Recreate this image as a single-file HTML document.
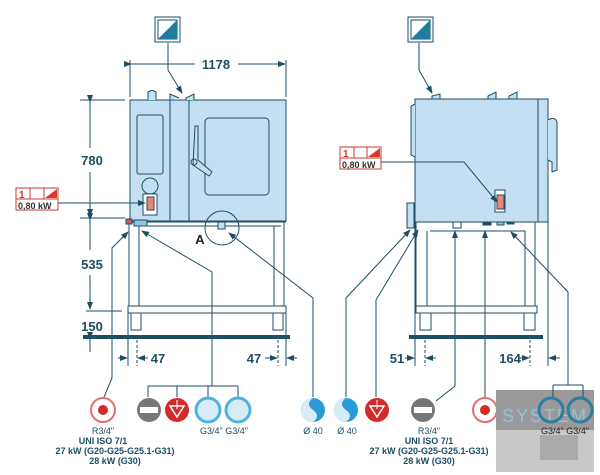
<!DOCTYPE html>
<html><head><style>body{margin:0;background:#fff}svg{display:block}text{font-family:"Liberation Sans",sans-serif}</style></head><body>
<svg width="600" height="475" viewBox="0 0 600 475" xmlns="http://www.w3.org/2000/svg">
<defs>
<marker id="a" markerWidth="8" markerHeight="8" refX="7" refY="4" orient="auto" markerUnits="userSpaceOnUse"><path d="M0,1 L8,4 L0,7 Z" fill="#1d4e63"/></marker>
</defs>
<g stroke="#1d4e63" fill="none" stroke-width="1">
<rect x="155" y="17" width="25" height="25" fill="#fff"/>
<rect x="158" y="20" width="19" height="19" fill="#fff"/>
<path d="M177,20 L177,39 L158,39 Z" fill="#1f7ea0" stroke="none"/>
<path d="M168,43 L168,70 L182,93" marker-end="url(#a)"/>
<line x1="130" y1="60" x2="130" y2="97"/><line x1="286" y1="60" x2="286" y2="97"/>
<line x1="131" y1="64" x2="195" y2="64" marker-start="url(#a)"/>
<line x1="238" y1="64" x2="285" y2="64" marker-end="url(#a)"/>
<rect x="130" y="100" width="156" height="121" fill="#c4dff1"/>
<line x1="170" y1="100" x2="170" y2="221"/><line x1="189" y1="100" x2="189" y2="221"/>
<rect x="137" y="115" width="26" height="59" rx="2"/>
<rect x="205" y="118" width="64" height="77" rx="4"/>
<path d="M195,126 L198,126 L198,160 L212,172 L209,176 L193,165 Z" fill="#c4dff1"/>
<circle cx="194" cy="162" r="3"/>
<path d="M148,100 L148,92 Q152,89 156,92 L156,100" fill="#c4dff1"/>
<path d="M170,100 L170,94 L179,98" fill="#c4dff1"/><path d="M186,100 L186,98 L194,94 L194,100" fill="#c4dff1"/>
<circle cx="150" cy="186" r="8"/>
<path d="M143,194 L157,194 L157,215 L143,215 Z" fill="#fff"/>
<rect x="147" y="197" width="7" height="13" fill="#e8877a"/>
<line x1="128" y1="222" x2="286" y2="222"/>
<line x1="134" y1="226" x2="281" y2="226"/>
<line x1="129" y1="222" x2="129" y2="306"/><line x1="139" y1="226" x2="139" y2="306"/>
<line x1="274" y1="226" x2="274" y2="306"/><line x1="284" y1="222" x2="284" y2="306"/>
<rect x="128" y="306" width="158" height="7" fill="#fff"/>
<rect x="131" y="313" width="10" height="17"/><rect x="273" y="313" width="10" height="17"/>
<rect x="134" y="220" width="13" height="6" fill="#8ec5e0"/>
<rect x="126" y="219" width="6" height="5" fill="#c06060"/>
<rect x="218" y="222" width="7" height="7" fill="#c4dff1"/>
<circle cx="222" cy="228" r="17"/>
</g>
<rect x="83" y="335" width="207" height="4" fill="#1d4e63"/>
<g stroke="#1d4e63" fill="none">
<line x1="80" y1="100" x2="125" y2="100"/><line x1="80" y1="218" x2="125" y2="218"/>
<line x1="86" y1="311" x2="122" y2="311"/>
<line x1="90" y1="102" x2="90" y2="148" marker-start="url(#a)"/>
<line x1="90" y1="172" x2="90" y2="216" marker-end="url(#a)"/>
<line x1="90" y1="220" x2="90" y2="250" marker-start="url(#a)"/>
<line x1="90" y1="275" x2="90" y2="309" marker-end="url(#a)"/>
<line x1="90" y1="339" x2="90" y2="352" marker-start="url(#a)"/>
<line x1="128" y1="313" x2="128" y2="366"/><line x1="137" y1="340" x2="137" y2="366" stroke-dasharray="3,2"/>
<line x1="118" y1="358" x2="127" y2="358" marker-end="url(#a)"/><line x1="148" y1="358" x2="138" y2="358" marker-end="url(#a)"/>
<line x1="278" y1="340" x2="278" y2="366" stroke-dasharray="3,2"/><line x1="286" y1="313" x2="286" y2="366"/>
<line x1="265" y1="358" x2="277" y2="358" marker-end="url(#a)"/><line x1="297" y1="358" x2="287" y2="358" marker-end="url(#a)"/>
<line x1="58" y1="203" x2="145" y2="203" marker-end="url(#a)"/>
<path d="M104,397 L112,378 L112,248 L128,232" marker-end="url(#a)"/>
<line x1="148" y1="386" x2="238" y2="386"/>
<line x1="148" y1="386" x2="148" y2="397"/><line x1="177" y1="386" x2="177" y2="397"/>
<line x1="208" y1="386" x2="208" y2="397"/><line x1="238" y1="386" x2="238" y2="397"/>
<path d="M212,386 L212,272 L142,231" marker-end="url(#a)"/>
<path d="M313,397 L313,298 L229,233" marker-end="url(#a)"/>
<rect x="408" y="17" width="25" height="25" fill="#fff"/><rect x="411" y="20" width="19" height="19"/>
<path d="M430,20 L430,39 L411,39 Z" fill="#1f7ea0" stroke="none"/>
<path d="M419,43 L419,70 L432,93" marker-end="url(#a)"/>
<path d="M432,99 L432,96 L440,94 L440,99" fill="#c4dff1"/>
<path d="M488,99 L488,96 L496,92 L496,99" fill="#c4dff1"/><path d="M509,99 L509,96 L517,92 L517,99" fill="#c4dff1"/>
<rect x="415" y="99" width="123" height="123" fill="#c4dff1"/>
<rect x="538" y="99" width="10" height="123" fill="#c4dff1"/>
<path d="M415,104 L411,106 L411,155 L415,157" fill="#c4dff1"/>
<path d="M548,120 Q555,116 557,122 L557,170 L552,172 L552,162 L548,160" fill="#c4dff1"/>
<path d="M495,190 L505,190 L505,212 L495,212 Z" fill="#fff"/>
<rect x="497" y="195" width="7" height="14" fill="#e8877a"/>
<path d="M380,162 L464,162 L497,202" marker-end="url(#a)"/>
<rect x="407" y="203" width="7" height="25" fill="#c4dff1"/>
<line x1="416" y1="222" x2="416" y2="306"/><line x1="427" y1="231" x2="427" y2="306"/>
<line x1="525" y1="231" x2="525" y2="306"/><line x1="535" y1="222" x2="535" y2="306"/>
<line x1="430" y1="231" x2="525" y2="231"/>
<rect x="416" y="306" width="121" height="7" fill="#fff"/>
<rect x="420" y="313" width="11" height="17"/><rect x="524" y="313" width="11" height="17"/>
<rect x="453" y="222" width="8" height="6" fill="#fff"/>
<rect x="483" y="222" width="8" height="3" fill="#1d4e63"/>
<rect x="497" y="222" width="7" height="3" fill="#8ec5e0"/><rect x="507" y="222" width="7" height="2" fill="#1d4e63"/>
<line x1="415" y1="222" x2="415" y2="366"/><line x1="548" y1="222" x2="548" y2="366"/>
<line x1="425" y1="340" x2="425" y2="366" stroke-dasharray="3,2"/><line x1="530" y1="340" x2="530" y2="366" stroke-dasharray="3,2"/>
<line x1="405" y1="358" x2="414" y2="358" marker-end="url(#a)"/><line x1="436" y1="358" x2="426" y2="358" marker-end="url(#a)"/>
<line x1="518" y1="358" x2="529" y2="358" marker-end="url(#a)"/><line x1="560" y1="358" x2="549" y2="358" marker-end="url(#a)"/>
<path d="M346,397 L346,298 L410,230" marker-end="url(#a)"/>
<path d="M376,397 L376,300 L418,230" marker-end="url(#a)"/>
<path d="M436,401 L455,386 L455,231" marker-end="url(#a)"/>
<line x1="485" y1="397" x2="485" y2="231" marker-end="url(#a)"/>
<path d="M568,385 L568,292 L511,232" marker-end="url(#a)"/>
</g>
<rect x="409" y="335" width="134" height="4" fill="#1d4e63"/>
<g font-size="10" font-weight="bold" fill="#d23a2e">
<rect x="16" y="188" width="42" height="22" fill="#fff" stroke="#d23a2e"/><line x1="16" y1="199" x2="58" y2="199" stroke="#d23a2e"/>
<line x1="30" y1="188" x2="30" y2="199" stroke="#d23a2e"/><line x1="44" y1="188" x2="44" y2="199" stroke="#d23a2e"/>
<path d="M57,189 L57,198 L45,198 Z"/><text x="19" y="198">1</text>
<text x="18" y="209" fill="#333" font-size="9">0,80 kW</text>
<rect x="340" y="147" width="41" height="22" fill="#fff" stroke="#d23a2e"/><line x1="340" y1="158" x2="381" y2="158" stroke="#d23a2e"/>
<line x1="354" y1="147" x2="354" y2="158" stroke="#d23a2e"/><line x1="367" y1="147" x2="367" y2="158" stroke="#d23a2e"/>
<path d="M380,148 L380,157 L368,157 Z"/><text x="343" y="157">1</text>
<text x="342" y="168" fill="#333" font-size="9">0,80 kW</text>
</g>
<g font-size="13" font-weight="bold" fill="#1d4e63" text-anchor="middle">
<text x="216" y="69">1178</text><text x="92" y="165">780</text><text x="92" y="269">535</text><text x="92" y="331">150</text>
<text x="158" y="363">47</text><text x="254" y="363">47</text><text x="397" y="363">51</text><text x="510" y="363">164</text>
<text x="200" y="244" fill="#222">A</text>
</g>
<g>
<circle cx="103" cy="410" r="12" fill="#fff" stroke="#e07070" stroke-width="2"/><circle cx="103" cy="410" r="5" fill="#d42a2a"/>
<circle cx="149" cy="410" r="12" fill="#777"/><rect x="140" y="407" width="18" height="6" fill="#fff"/>
<circle cx="177" cy="410" r="12" fill="#d42a2a"/><path d="M170,406 L184,406 L177,417 Z" fill="none" stroke="#fff" stroke-width="1.5"/><line x1="177" y1="400" x2="177" y2="409" stroke="#fff"/>
<circle cx="208" cy="410" r="12" fill="#d7ecf7" stroke="#4fb3de" stroke-width="3"/>
<circle cx="238" cy="410" r="12" fill="#d7ecf7" stroke="#4fb3de" stroke-width="3"/>
<circle cx="313" cy="410" r="12" fill="#2b9bd6"/><path d="M313,398 Q305,404 313,410 Q321,416 313,422 A12,12 0 0 1 313,398" fill="#d7ecf7"/>
<circle cx="346" cy="410" r="12" fill="#2b9bd6"/><path d="M346,398 Q338,404 346,410 Q354,416 346,422 A12,12 0 0 1 346,398" fill="#d7ecf7"/>
<circle cx="377" cy="410" r="12" fill="#d42a2a"/><path d="M370,406 L384,406 L377,417 Z" fill="none" stroke="#fff" stroke-width="1.5"/><line x1="377" y1="400" x2="377" y2="409" stroke="#fff"/>
<circle cx="423" cy="410" r="12" fill="#777"/><rect x="414" y="407" width="18" height="6" fill="#fff"/>
<circle cx="485" cy="410" r="12" fill="#fff" stroke="#e07070" stroke-width="2"/><circle cx="485" cy="410" r="5" fill="#d42a2a"/>
</g>
<rect x="496" y="390" width="98" height="82" fill="#9a9a9a"/>
<rect x="496" y="430" width="98" height="42" fill="#c8c8c8"/>
<rect x="540" y="435" width="38" height="25" fill="#aaa"/>
<text x="545" y="422" font-size="18" fill="#8fc4d8" text-anchor="middle" letter-spacing="2">SYSTEM</text>
<g stroke="#1d4e63" fill="none"><line x1="553" y1="385" x2="583" y2="385"/><line x1="553" y1="385" x2="553" y2="398"/><line x1="583" y1="385" x2="583" y2="398"/></g>
<circle cx="551" cy="410" r="12" fill="none" stroke="#2b7ea0" stroke-width="3"/>
<circle cx="580" cy="410" r="12" fill="none" stroke="#2b7ea0" stroke-width="3"/>
<g font-size="9" fill="#1d4e63" text-anchor="middle" font-weight="bold">
<text x="103" y="434" font-weight="normal">R3/4"</text><text x="103" y="444">UNI ISO 7/1</text>
<text x="115" y="454">27 kW (G20-G25-G25.1-G31)</text><text x="115" y="464">28 kW (G30)</text>
<text x="224" y="434" font-weight="normal">G3/4"  G3/4"</text>
<text x="313" y="434" font-weight="normal">Ø 40</text><text x="347" y="434" font-weight="normal">Ø 40</text>
<text x="429" y="434" font-weight="normal">R3/4"</text><text x="429" y="444">UNI ISO 7/1</text>
<text x="429" y="454">27 kW (G20-G25-G25.1-G31)</text><text x="429" y="464">28 kW (G30)</text>
<text x="565" y="434" font-weight="normal" fill="#222">G3/4"  G3/4"</text>
</g>
</svg>
</body></html>
